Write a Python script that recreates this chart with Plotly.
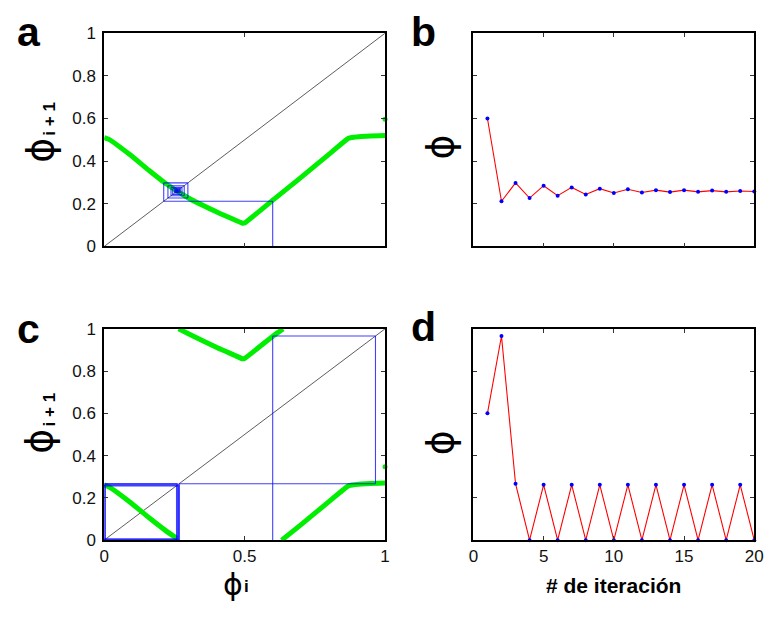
import plotly.graph_objects as go

# ---------------- data ----------------
# map (panel a): phase response curve samples
map_a_x = [0.0, 0.02, 0.09, 0.16, 0.219, 0.30, 0.405, 0.464, 0.493, 0.50, 0.605, 0.70, 0.812, 0.871, 0.906, 1.0]
map_a_y = [0.51, 0.50, 0.432, 0.356, 0.295, 0.227, 0.159, 0.125, 0.109, 0.11, 0.222, 0.323, 0.445, 0.508, 0.515, 0.52]
dot_a = (1.0, 0.597)

# map (panel c): three branches (wrapped mod 1)
map_c1_x = [0.0, 0.02, 0.09, 0.16, 0.219, 0.259]
map_c1_y = [0.262, 0.25, 0.182, 0.106, 0.045, 0.008]
map_c2_x = [0.265, 0.30, 0.405, 0.464, 0.493, 0.50, 0.605, 0.637]
map_c2_y = [1.0, 0.977, 0.909, 0.875, 0.858, 0.86, 0.97, 1.0]
map_c3_x = [0.632, 0.70, 0.812, 0.871, 0.906, 1.0]
map_c3_y = [0.0, 0.072, 0.195, 0.258, 0.265, 0.27]
dot_c = (1.0, 0.347)

# iteration series
iters = list(range(1, 21))
phi_b = [0.60, 0.212, 0.298, 0.227, 0.285, 0.238, 0.277, 0.244, 0.271, 0.251,
         0.268, 0.253, 0.264, 0.255, 0.264, 0.256, 0.262, 0.256, 0.260, 0.258]
phi_d = [0.60, 0.966, 0.267, 0.0, 0.262, 0.0, 0.262, 0.0, 0.262, 0.0,
         0.262, 0.0, 0.262, 0.0, 0.262, 0.0, 0.262, 0.0, 0.262, 0.0]

map_ticks = [0, 0.2, 0.4, 0.6, 0.8, 1]
map_ticklabels = ["0", "0.2", "0.4", "0.6", "0.8", "1"]
xmap_ticks = [0, 0.5, 1]
xmap_ticklabels = ["0", "0.5", "1"]
iter_ticks = [0, 5, 10, 15, 20]
iter_ticklabels = ["0", "5", "10", "15", "20"]

# ---------------- figure ----------------
W, H = 777, 617
fig = go.Figure()


def px(x):
    return x / W


def py(y):
    return 1 - y / H


GREEN = "#00ee00"
BLUE = "#0000ff"
RED = "#ff0000"

dom = {
    "a": dict(x=[px(101), px(387)], y=[py(245), py(25)]),
    "b": dict(x=[px(477), px(763)], y=[py(245), py(25)]),
    "c": dict(x=[px(101), px(387)], y=[py(548), py(330)]),
    "d": dict(x=[px(477), px(763)], y=[py(548), py(330)]),
}
axes = {"a": ("x", "y"), "b": ("x2", "y2"), "c": ("x3", "y3"), "d": ("x4", "y4")}

SANS = "Liberation Sans, Arial, sans-serif"
tickfont = dict(family=SANS, size=17, color="#111")


def cobweb(seq):
    pts = [(seq[0], 0.0)]
    for k in range(len(seq) - 1):
        pts.append((seq[k], seq[k + 1]))
        pts.append((seq[k + 1], seq[k + 1]))
    return pts


def add_cobweb(seq, ax):
    pts = cobweb(seq)
    segs = {}
    order = []
    for p, q in zip(pts[:-1], pts[1:]):
        key = tuple(sorted([(round(p[0], 4), round(p[1], 4)), (round(q[0], 4), round(q[1], 4))]))
        if key not in segs:
            segs[key] = 0
            order.append(key)
        segs[key] += 1
    for key in order:
        n = segs[key]
        (x0, y0), (x1, y1) = key
        fig.add_trace(go.Scatter(x=[x0, x1], y=[y0, y1], mode="lines",
                                 line=dict(color="rgba(0,0,255,0.75)", width=min(1.1 + 0.5 * (n - 1), 3.6)),
                                 xaxis=ax[0], yaxis=ax[1], showlegend=False, hoverinfo="skip",
                                 cliponaxis=False))


# panel a
ax = axes["a"]
fig.add_trace(go.Scatter(x=[0, 1], y=[0, 1], mode="lines", line=dict(color="#333", width=0.8),
                         xaxis=ax[0], yaxis=ax[1], showlegend=False))
fig.add_trace(go.Scatter(x=map_a_x, y=map_a_y, mode="lines", line=dict(color=GREEN, width=5, shape="spline", smoothing=0.4),
                         xaxis=ax[0], yaxis=ax[1], showlegend=False))
fig.add_trace(go.Scatter(x=[dot_a[0]], y=[dot_a[1]], mode="markers", marker=dict(color=GREEN, size=5),
                         xaxis=ax[0], yaxis=ax[1], showlegend=False, cliponaxis=False))
add_cobweb(phi_b, ax)

# panel c
ax = axes["c"]
fig.add_trace(go.Scatter(x=[0, 1], y=[0, 1], mode="lines", line=dict(color="#333", width=0.8),
                         xaxis=ax[0], yaxis=ax[1], showlegend=False))
for bx, by in [(map_c1_x, map_c1_y), (map_c2_x, map_c2_y), (map_c3_x, map_c3_y)]:
    fig.add_trace(go.Scatter(x=bx, y=by, mode="lines", line=dict(color=GREEN, width=5, shape="spline", smoothing=0.4),
                             xaxis=ax[0], yaxis=ax[1], showlegend=False, cliponaxis=False))
fig.add_trace(go.Scatter(x=[dot_c[0]], y=[dot_c[1]], mode="markers", marker=dict(color=GREEN, size=5),
                         xaxis=ax[0], yaxis=ax[1], showlegend=False, cliponaxis=False))
add_cobweb(phi_d, ax)

# panels b and d
for key, series in [("b", phi_b), ("d", phi_d)]:
    ax = axes[key]
    fig.add_trace(go.Scatter(x=iters, y=series, mode="lines+markers",
                             line=dict(color=RED, width=1.1),
                             marker=dict(color=BLUE, size=4),
                             xaxis=ax[0], yaxis=ax[1], showlegend=False, cliponaxis=False))

common = dict(showline=True, linecolor="black", linewidth=1.6, mirror="ticks", ticks="inside",
              ticklen=4, tickwidth=1, tickcolor="#333", showgrid=False, zeroline=False,
              tickfont=tickfont, fixedrange=True)

layout = dict(width=W, height=H, margin=dict(l=0, r=0, t=0, b=0),
              plot_bgcolor="white", paper_bgcolor="white", showlegend=False)

for i, key in enumerate(["a", "b", "c", "d"]):
    sfx = "" if i == 0 else str(i + 1)
    xa = dict(common, domain=dom[key]["x"], anchor="y" + sfx)
    ya = dict(common, domain=dom[key]["y"], anchor="x" + sfx)
    if key in ("a", "c"):
        xa.update(range=[0, 1], tickvals=xmap_ticks, ticktext=xmap_ticklabels)
        ya.update(range=[0, 1], tickvals=map_ticks, ticktext=map_ticklabels, ticklabelstandoff=3)
    else:
        xa.update(range=[0, 20], tickvals=iter_ticks, ticktext=iter_ticklabels)
        ya.update(range=[0, 1], tickvals=map_ticks, showticklabels=False)
    if key in ("a", "b"):
        xa.update(showticklabels=False)
    layout["xaxis" + sfx] = xa
    layout["yaxis" + sfx] = ya

fig.update_layout(**layout)

ann = []


def put(text, x, y, size, angle=0, bold=False, family="DejaVu Sans, sans-serif"):
    ann.append(dict(text=("<b>%s</b>" % text) if bold else text, x=px(x), y=py(y),
                    xref="paper", yref="paper", showarrow=False, textangle=angle,
                    font=dict(family=family, size=size, color="black"),
                    xanchor="center", yanchor="middle"))


for txt, x, y in [("a", 24, 24), ("b", 426, 24), ("c", 24, 330), ("d", 426, 328)]:
    put(txt, x, y, 41, bold=True, family=SANS)

PHI = "\u03d5"
# y titles of maps
for yc, ys in [(146, 113), (446, 413)]:
    put(PHI, 35, yc, 38, angle=-90)
    put("i + 1", 45, ys, 17, angle=-90, bold=True, family=SANS)
# y titles of iteration panels
for yc in [143, 448]:
    put(PHI, 443, yc, 38, angle=-90)
# x title of map c
put(PHI, 232, 594, 30)
put("i", 246, 596, 17, bold=True, family=SANS)
# x title of d
put("# de iteración", 620, 595, 21, bold=True, family=SANS)

fig.update_layout(annotations=ann)

fig.write_html("out.html")
